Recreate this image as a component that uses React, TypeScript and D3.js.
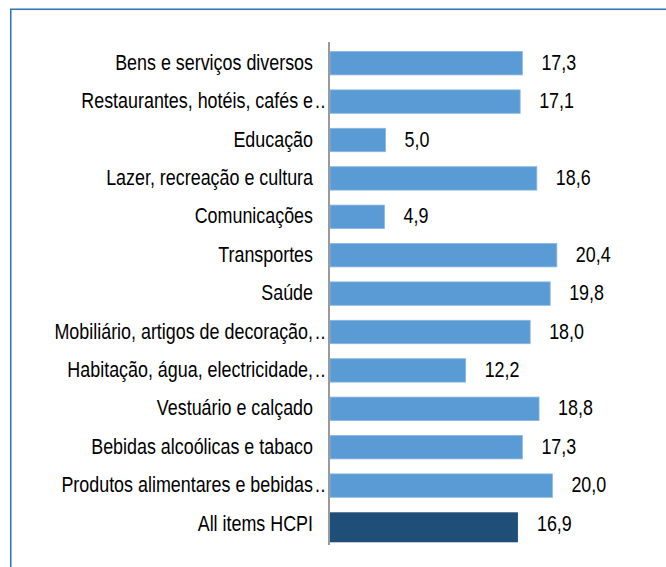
import React from "react";
import * as d3 from "d3";

const categories = [
  "Bens e serviços diversos",
  "Restaurantes, hotéis, cafés e..",
  "Educação",
  "Lazer, recreação e cultura",
  "Comunicações",
  "Transportes",
  "Saúde",
  "Mobiliário, artigos de decoração,..",
  "Habitação, água, electricidade,..",
  "Vestuário e calçado",
  "Bebidas alcoólicas e tabaco",
  "Produtos alimentares e bebidas..",
  "All items HCPI",
];
const values = [17.3, 17.1, 5.0, 18.6, 4.9, 20.4, 19.8, 18.0, 12.2, 18.8, 17.3, 20.0, 16.9];
const highlight = ["All items HCPI"];

const W = 666;
const H = 567;
const FONT = "'Liberation Sans', Arial, sans-serif";
const FS = 17.9;
const VSCALE = 1.22;

function Label(props: { x: number; y: number; anchor: string; text: string; spacing?: number }) {
  return (
    <text
      transform={`translate(${props.x},${props.y}) scale(1,${VSCALE})`}
      textAnchor={props.anchor}
      fontFamily={FONT}
      fontSize={FS}
      letterSpacing={props.spacing ?? 0}
      fill="#000"
    >
      {props.text}
    </text>
  );
}

export default function App() {
  const x = d3.scaleLinear().domain([0, 25]).range([330, 330 + 25 * 11.12]);
  const y = d3
    .scaleBand<string>()
    .domain(categories)
    .range([44, 543.2])
    .paddingInner(0.39)
    .paddingOuter(0.195);
  const fmt = (v: number) => d3.format(".1f")(v).replace(".", ",");

  return (
    <div style={{ position: "fixed", left: 0, top: 0 }}>
      <svg width={W} height={H} style={{ display: "block", background: "#fff" }}>
        <rect x={10.75} y={9.25} width={700} height={700} fill="none" stroke="#2f72b3" strokeWidth={1.5} />
        {categories.map((c, i) => {
          const isHi = highlight.includes(c);
          const by = y(c)!;
          const bh = isHi ? 30 : y.bandwidth();
          const cy = by + y.bandwidth() / 2;
          const base = cy + 6.5;
          const trunc = c.endsWith("..");
          const main = trunc ? c.slice(0, -2) : c;
          return (
            <g key={c}>
              <rect
                x={x(0)}
                y={by}
                width={x(values[i]) - x(0)}
                height={bh}
                fill={isHi ? "#1f4e79" : "#5b9bd5"}
                stroke={isHi ? "none" : "#8ab8e3"}
                strokeWidth={isHi ? 0 : 0.8}
              />
              <Label x={313} y={base} anchor="end" text={main} />
              {trunc && <Label x={315} y={base} anchor="start" text=".." spacing={0.5} />}
              <Label x={x(values[i]) + 19} y={base} anchor="start" text={fmt(values[i])} />
            </g>
          );
        })}
        <line x1={329} x2={329} y1={42} y2={545} stroke="#9a9a9a" strokeWidth={2} />
      </svg>
    </div>
  );
}
